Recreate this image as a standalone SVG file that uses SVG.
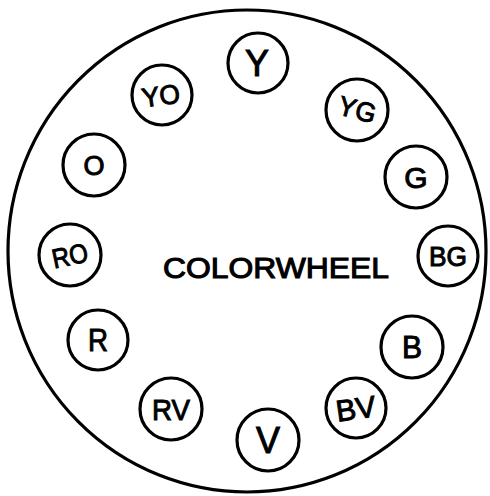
<svg xmlns="http://www.w3.org/2000/svg" width="490" height="496" viewBox="0 0 490 496">
<style>
.c{fill:none;stroke:#000;stroke-width:3.2}
.t{font-family:"Liberation Sans",Arial,sans-serif;font-size:27px;fill:#000;stroke:#000;stroke-width:1;text-anchor:middle}
.big{font-size:30px;stroke-width:1.1}
</style>
<rect width="490" height="496" fill="#fff"/>
<g id="wheel"><ellipse class="c" cx="247" cy="251" rx="239" ry="241"/></g>
<g id="title"><text class="t big" x="276" y="278" textLength="226" lengthAdjust="spacingAndGlyphs">COLORWHEEL</text></g>
<g id="Y"><circle class="c" cx="258" cy="63" r="30"/><text class="t" x="257" y="76" style="font-size:36px" textLength="24" lengthAdjust="spacingAndGlyphs">Y</text></g>
<g id="YO"><circle class="c" cx="162" cy="95" r="30"/><text class="t" x="161" y="105" transform="rotate(-8 161 97)" textLength="38" lengthAdjust="spacingAndGlyphs">YO</text></g>
<g id="YG"><circle class="c" cx="357" cy="110" r="31"/><text class="t" x="357" y="119" transform="rotate(15 357 111)" textLength="38" lengthAdjust="spacingAndGlyphs">YG</text></g>
<g id="O"><circle class="c" cx="94" cy="165" r="31"/><text class="t" x="94" y="175">O</text></g>
<g id="G"><circle class="c" cx="416" cy="177" r="31"/><text class="t" x="416" y="188" style="font-size:30px">G</text></g>
<g id="RO"><circle class="c" cx="70" cy="255" r="31"/><text class="t" x="70" y="265" transform="rotate(-12 70 256)" textLength="36" lengthAdjust="spacingAndGlyphs">RO</text></g>
<g id="BG"><circle class="c" cx="448" cy="256" r="30"/><text class="t" x="448" y="266" textLength="38" lengthAdjust="spacingAndGlyphs">BG</text></g>
<g id="R"><circle class="c" cx="98" cy="340" r="30"/><text class="t" x="98" y="351" style="font-size:32px" textLength="20" lengthAdjust="spacingAndGlyphs">R</text></g>
<g id="B"><circle class="c" cx="412" cy="347" r="31"/><text class="t" x="412" y="358" style="font-size:31px" textLength="20" lengthAdjust="spacingAndGlyphs">B</text></g>
<g id="RV"><circle class="c" cx="171" cy="409" r="31"/><text class="t" x="171" y="420" style="font-size:30px" textLength="38" lengthAdjust="spacingAndGlyphs">RV</text></g>
<g id="BV"><circle class="c" cx="356" cy="408" r="30"/><text class="t" x="356" y="419" style="font-size:30px" transform="rotate(-8 356 410)" textLength="40" lengthAdjust="spacingAndGlyphs">BV</text></g>
<g id="V"><circle class="c" cx="268" cy="440" r="31"/><text class="t" x="268" y="453" style="font-size:36px" textLength="24" lengthAdjust="spacingAndGlyphs">V</text></g>
<g id="connectors"/>
</svg>
